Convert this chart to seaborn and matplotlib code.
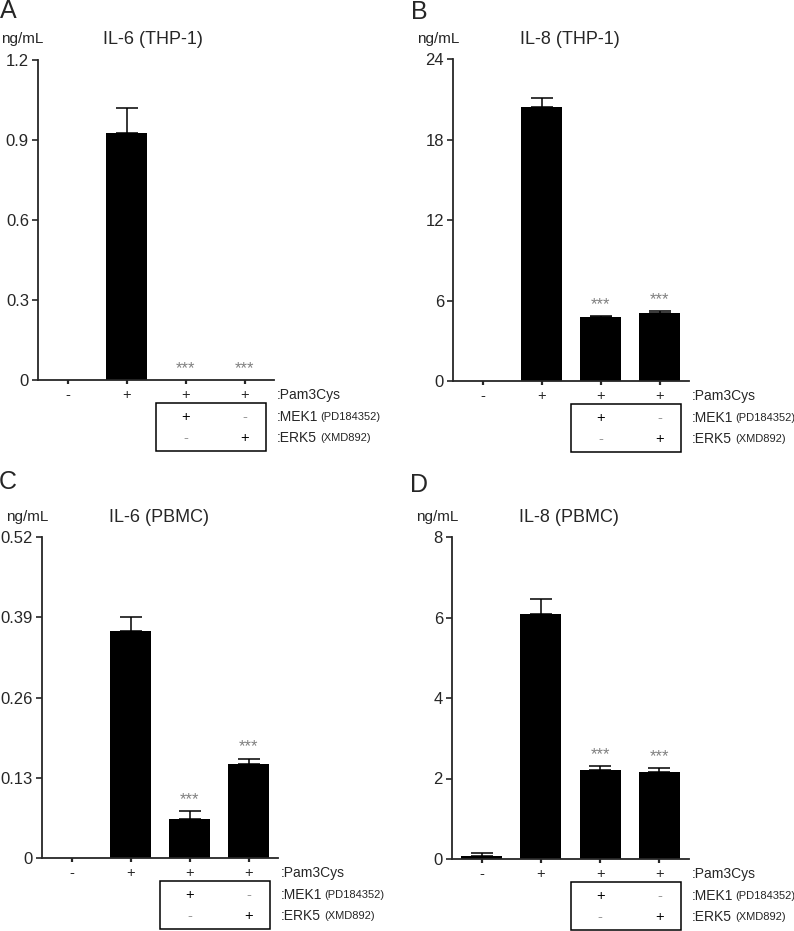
import matplotlib
matplotlib.use('Agg')
import matplotlib.pyplot as plt
import matplotlib.transforms as mtransforms
from matplotlib.patches import Rectangle
import seaborn as sns
import pandas as pd

# conditions (x categories)
conditions = ['ctrl', 'Pam3Cys', 'Pam3Cys+PD184352', 'Pam3Cys+XMD892']
pam3cys_row = ['-', '+', '+', '+']
mek1_row = ['+', '-']
erk5_row = ['-', '+']
significant = [False, False, True, True]

# A: IL-6 (THP-1)
il6_thp1 = [0.0, 0.925, 0.0, 0.0]
il6_thp1_sem = [0.0, 0.095, 0.0, 0.0]
il6_thp1_ticks = [0, 0.3, 0.6, 0.9, 1.2]
il6_thp1_labels = ['0', '0.3', '0.6', '0.9', '1.2']

# B: IL-8 (THP-1)
il8_thp1 = [0.0, 20.4, 4.75, 5.05]
il8_thp1_sem = [0.0, 0.7, 0.08, 0.15]
il8_thp1_ticks = [0, 6, 12, 18, 24]
il8_thp1_labels = ['0', '6', '12', '18', '24']

# C: IL-6 (PBMC)
il6_pbmc = [0.0, 0.368, 0.063, 0.152]
il6_pbmc_sem = [0.0, 0.023, 0.013, 0.009]
il6_pbmc_ticks = [0, 0.13, 0.26, 0.39, 0.52]
il6_pbmc_labels = ['0', '0.13', '0.26', '0.39', '0.52']

# D: IL-8 (PBMC)
il8_pbmc = [0.08, 6.09, 2.21, 2.17]
il8_pbmc_sem = [0.06, 0.37, 0.10, 0.085]
il8_pbmc_ticks = [0, 2, 4, 6, 8]
il8_pbmc_labels = ['0', '2', '4', '6', '8']

W, H = 794, 931

sns.set_style('ticks')
plt.rcParams['font.family'] = ['Liberation Sans', 'DejaVu Sans']
plt.rcParams['axes.linewidth'] = 1.3

fig = plt.figure(figsize=(W / 100, H / 100), dpi=100)


def px_axes(left, top, right, bottom):
    return [left / W, 1 - bottom / H, (right - left) / W, (bottom - top) / H]


def draw_panel(box, values, sems, ticks, labels, title, letter, title_x, unit_x, letter_x, head_y, letter_y):
    left, top, right, bottom = box
    ax = fig.add_axes(px_axes(left, top, right, bottom))
    df = pd.DataFrame({'condition': conditions, 'value': values})
    sns.barplot(data=df, x='condition', y='value', color='black', saturation=1,
                width=0.69, edgecolor='black', linewidth=0, ax=ax)

    # upper-only SEM bars
    idx = [i for i, s in enumerate(sems) if s > 0]
    ax.errorbar(idx, [values[i] for i in idx],
                yerr=[[0] * len(idx), [sems[i] for i in idx]],
                fmt='none', ecolor='black', elinewidth=1.1, capsize=8, capthick=1.1)

    for i, sig in enumerate(significant):
        if sig:
            ax.annotate('***', xy=(i, values[i] + sems[i]), xytext=(0, 8.5),
                        textcoords='offset points', ha='center', va='center',
                        fontsize=12, color='#808080')

    ax.set_xlim(-0.5, 3.5)
    ax.set_ylim(0, ticks[-1])
    ax.set_yticks(ticks)
    ax.set_yticklabels(labels)
    ax.set_xticks(range(len(conditions)))
    ax.set_xticklabels(pam3cys_row)
    ax.set_xlabel('')
    ax.set_ylabel('')
    ax.tick_params(axis='y', direction='out', length=4, width=1.2, labelsize=12, pad=2.5)
    ax.tick_params(axis='x', direction='out', length=3, width=1.6, labelsize=10.5, pad=2.5)
    sns.despine(ax=ax)

    trans = mtransforms.blended_transform_factory(ax.transData, ax.transAxes)
    hpx = bottom - top
    y_pam = -15 / hpx
    y_mek = -37 / hpx
    y_erk = -58 / hpx
    ax.add_patch(Rectangle((1.5, -71 / hpx), 1.87, 48 / hpx, transform=trans,
                           fill=False, edgecolor='black', linewidth=1.1, clip_on=False))
    for j, s in enumerate(mek1_row):
        ax.text(2 + j, y_mek, s, transform=trans, ha='center', va='center',
                fontsize=10.5, color='black' if s == '+' else '#999999')
    for j, s in enumerate(erk5_row):
        ax.text(2 + j, y_erk, s, transform=trans, ha='center', va='center',
                fontsize=10.5, color='black' if s == '+' else '#999999')
    ax.text(3.55, y_pam, ':Pam3Cys', transform=trans, ha='left', va='center', fontsize=10)
    for y, name, drug in [(y_mek, ':MEK1', '(PD184352)'), (y_erk, ':ERK5', '(XMD892)')]:
        ax.text(3.55, y, name, transform=trans, ha='left', va='center', fontsize=10)
        ax.annotate(drug, xy=(3.55, y), xycoords=trans, xytext=(31, 0),
                    textcoords='offset points', ha='left', va='center', fontsize=8)

    fig.text(unit_x / W, 1 - head_y / H, 'ng/mL', ha='center', va='center', fontsize=11)
    fig.text(title_x / W, 1 - head_y / H, title, ha='center', va='center', fontsize=13)
    fig.text(letter_x / W, 1 - letter_y / H, letter, ha='center', va='center', fontsize=18)
    return ax


draw_panel((38, 60, 274, 380), il6_thp1, il6_thp1_sem, il6_thp1_ticks, il6_thp1_labels,
           'IL-6 (THP-1)', 'A', 153, 22, 8, 39, 11)
draw_panel((453, 59, 689, 381), il8_thp1, il8_thp1_sem, il8_thp1_ticks, il8_thp1_labels,
           'IL-8 (THP-1)', 'B', 570, 438, 419, 39, 12)
draw_panel((42, 537, 278, 858), il6_pbmc, il6_pbmc_sem, il6_pbmc_ticks, il6_pbmc_labels,
           'IL-6 (PBMC)', 'C', 159, 27, 8, 517, 482)
draw_panel((452, 537, 689, 859), il8_pbmc, il8_pbmc_sem, il8_pbmc_ticks, il8_pbmc_labels,
           'IL-8 (PBMC)', 'D', 569, 437, 419, 517, 485)

fig.savefig('out.png', dpi=100)
